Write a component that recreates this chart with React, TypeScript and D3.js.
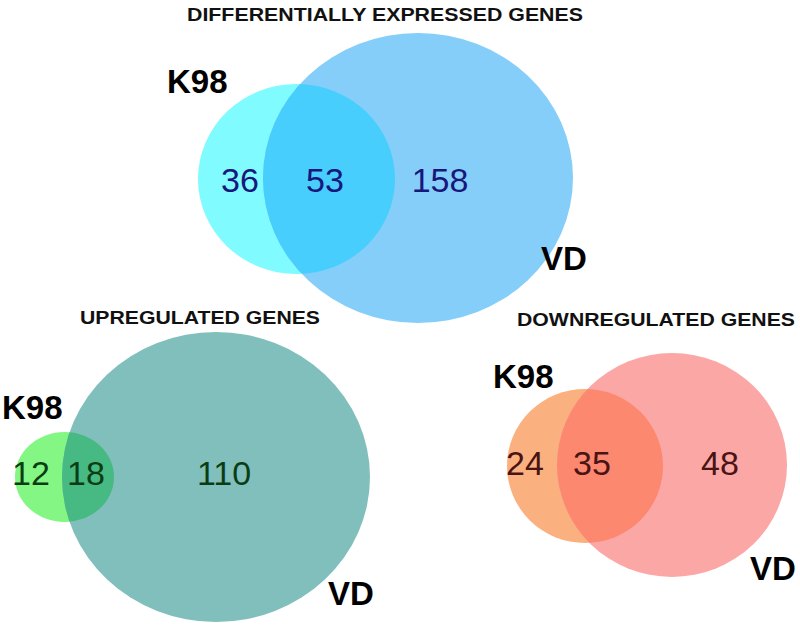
import React, { useEffect, useRef } from "react";
import * as d3 from "d3";

// ---- data ----
const panelTitles = ["DIFFERENTIALLY EXPRESSED GENES", "UPREGULATED GENES", "DOWNREGULATED GENES"];
const setNames = ["K98", "VD"];
const k98Only = [36, 12, 24];
const overlap = [53, 18, 35];
const vdOnly = [158, 110, 48];

// ---- layout / styles ----
const W = 800;
const H = 626;
const layout = [
  {
    title: { x: 385, y: 21, len: 396 },
    k98: { cx: 296.5, cy: 179, rx: 98.5, ry: 95 },
    vd: { cx: 418, cy: 178, rx: 155, ry: 145 },
    k98Label: { x: 167, y: 93 },
    vdLabel: { x: 541, y: 270 },
    nums: [240, 325, 440],
    numY: 192,
    colors: { k98: "#80fbff", vd: "#85cefa", both: "#47cefc", text: "#17177c" },
  },
  {
    title: { x: 200, y: 324, len: 240 },
    k98: { cx: 64.5, cy: 477, rx: 49.5, ry: 45 },
    vd: { cx: 216, cy: 477, rx: 154, ry: 145 },
    k98Label: { x: 2, y: 419 },
    vdLabel: { x: 328, y: 605 },
    nums: [31, 86, 224],
    numY: 485,
    colors: { k98: "#84f684", vd: "#80bfbc", both: "#47b982", text: "#0b3d14" },
  },
  {
    title: { x: 656, y: 326, len: 278 },
    k98: { cx: 585, cy: 466, rx: 78, ry: 77 },
    vd: { cx: 672, cy: 465, rx: 115, ry: 112 },
    k98Label: { x: 493, y: 388 },
    vdLabel: { x: 750, y: 580 },
    nums: [525, 592, 720],
    numY: 475,
    colors: { k98: "#fbb17f", vd: "#fba7a6", both: "#fc8870", text: "#4a1414" },
  },
];

export default function App() {
  const ref = useRef<SVGSVGElement | null>(null);

  useEffect(() => {
    const svg = d3.select(ref.current);
    svg.selectAll("*").remove();
    const defs = svg.append("defs");
    const font = "'Liberation Sans', Arial, Helvetica, sans-serif";

    layout.forEach((L, i) => {
      const g = svg.append("g");
      const clipId = `vdclip-${i}`;
      defs
        .append("clipPath")
        .attr("id", clipId)
        .append("ellipse")
        .attr("cx", L.vd.cx)
        .attr("cy", L.vd.cy)
        .attr("rx", L.vd.rx)
        .attr("ry", L.vd.ry);

      g.append("ellipse")
        .attr("cx", L.k98.cx)
        .attr("cy", L.k98.cy)
        .attr("rx", L.k98.rx)
        .attr("ry", L.k98.ry)
        .attr("fill", L.colors.k98);
      g.append("ellipse")
        .attr("cx", L.vd.cx)
        .attr("cy", L.vd.cy)
        .attr("rx", L.vd.rx)
        .attr("ry", L.vd.ry)
        .attr("fill", L.colors.vd);
      g.append("ellipse")
        .attr("cx", L.k98.cx)
        .attr("cy", L.k98.cy)
        .attr("rx", L.k98.rx)
        .attr("ry", L.k98.ry)
        .attr("fill", L.colors.both)
        .attr("clip-path", `url(#${clipId})`);

      // title
      g.append("text")
        .attr("x", L.title.x - L.title.len / 2)
        .attr("y", L.title.y)
        .attr("textLength", L.title.len)
        .attr("lengthAdjust", "spacingAndGlyphs")
        .attr("font-family", font)
        .attr("font-weight", "bold")
        .attr("font-size", 18.5)
        .attr("fill", "#111")
        .text(panelTitles[i]);

      // set labels
      g.append("text")
        .attr("x", L.k98Label.x)
        .attr("y", L.k98Label.y)
        .attr("font-family", font)
        .attr("font-weight", "bold")
        .attr("font-size", 33)
        .attr("fill", "#000")
        .text(setNames[0]);
      g.append("text")
        .attr("x", L.vdLabel.x)
        .attr("y", L.vdLabel.y)
        .attr("font-family", font)
        .attr("font-weight", "bold")
        .attr("font-size", 33)
        .attr("fill", "#000")
        .text(setNames[1]);

      // counts
      const vals = [k98Only[i], overlap[i], vdOnly[i]];
      g.selectAll("text.num")
        .data(vals)
        .enter()
        .append("text")
        .attr("class", "num")
        .attr("x", (_d, j) => L.nums[j])
        .attr("y", L.numY)
        .attr("text-anchor", "middle")
        .attr("font-family", font)
        .attr("font-size", 34)
        .attr("fill", L.colors.text)
        .text((d) => String(d));
    });
  }, []);

  return (
    <svg
      ref={ref}
      width={W}
      height={H}
      style={{ position: "absolute", left: 0, top: 0, background: "#fff", display: "block" }}
    />
  );
}
